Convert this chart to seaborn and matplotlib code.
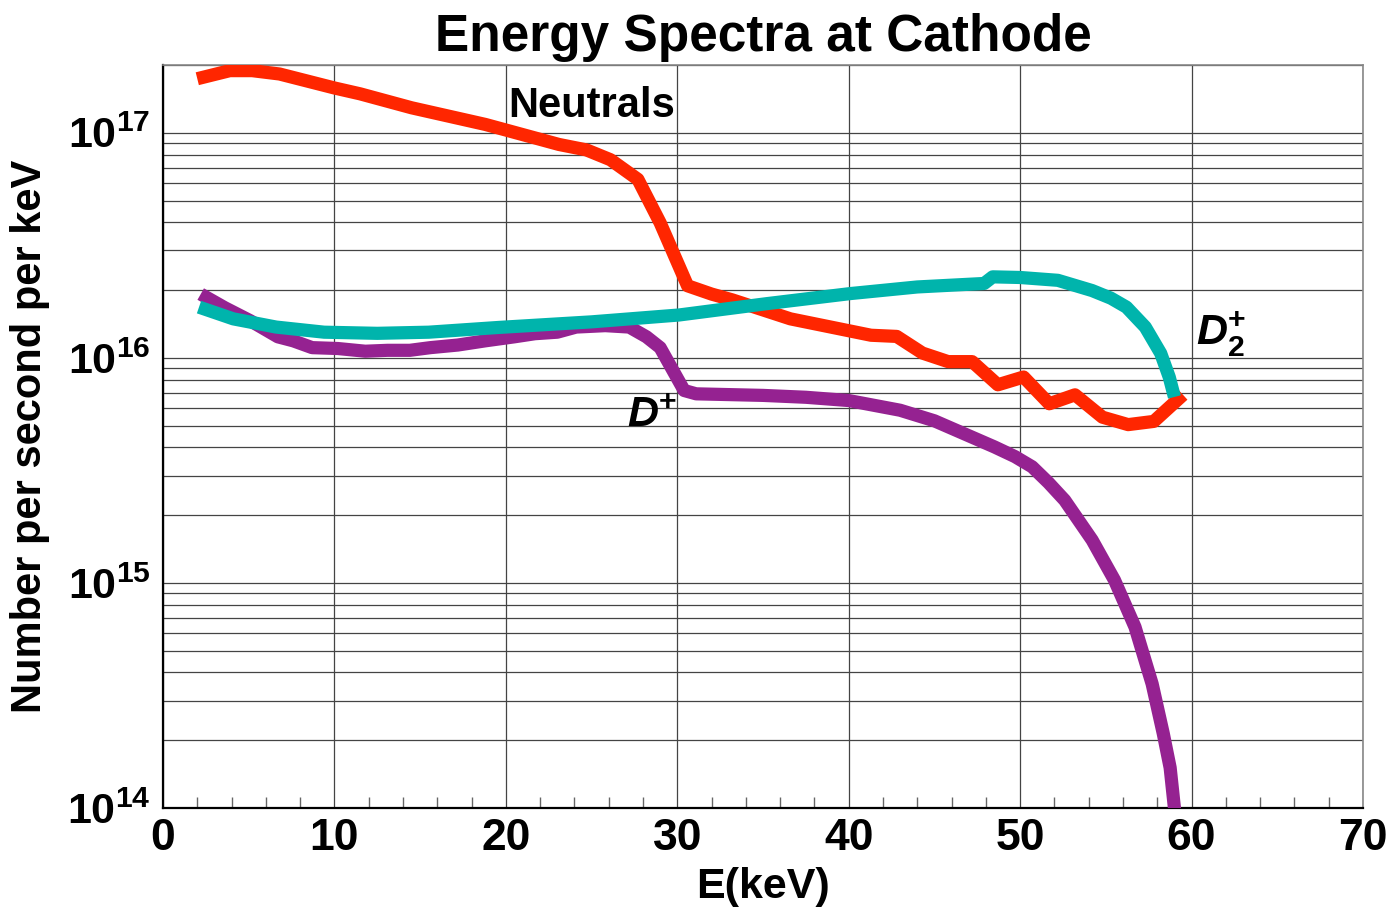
import numpy as np
import pandas as pd
import matplotlib
matplotlib.use("Agg")
import matplotlib.pyplot as plt
import matplotlib.ticker as mticker
import seaborn as sns

# ---------------- data ----------------
energy_neutrals = [2.0, 3.9, 5.2, 6.8, 10.0, 11.5, 14.5, 18.8, 23.1, 24.7, 26.1, 27.7,
                   29.0, 30.6, 32.0, 33.2, 36.6, 41.3, 42.8, 44.3, 45.8, 47.2, 48.7,
                   50.2, 51.7, 53.2, 54.8, 56.3, 57.8, 59.5]
flux_neutrals = [1.738e17, 1.888e17, 1.888e17, 1.824e17, 1.581e17, 1.489e17, 1.291e17,
                 1.089e17, 8.87e16, 8.39e16, 7.59e16, 6.21e16, 3.98e16, 2.09e16,
                 1.92e16, 1.81e16, 1.49e16, 1.26e16, 1.245e16, 1.05e16, 9.62e15,
                 9.62e15, 7.59e15, 8.22e15, 6.25e15, 6.85e15, 5.45e15, 5.05e15,
                 5.22e15, 6.85e15]

energy_dplus = [2.2, 3.6, 5.1, 6.7, 7.6, 8.7, 10.2, 11.8, 13.1, 14.4, 15.6, 17.2, 18.8,
                20.5, 21.7, 23.0, 24.1, 25.8, 27.2, 28.2, 29.0, 30.4, 31.1, 35.0, 37.5,
                40.0, 43.0, 45.0, 48.5, 49.7, 50.7, 51.65, 52.6, 54.2, 55.5, 56.7, 57.7,
                58.35, 58.75, 59.0, 59.2]
flux_dplus = [1.92e16, 1.67e16, 1.46e16, 1.24e16, 1.19e16, 1.11e16, 1.10e16, 1.07e16,
              1.08e16, 1.08e16, 1.11e16, 1.14e16, 1.19e16, 1.24e16, 1.28e16, 1.30e16,
              1.37e16, 1.39e16, 1.37e16, 1.24e16, 1.11e16, 7.16e15, 6.92e15, 6.81e15,
              6.68e15, 6.46e15, 5.85e15, 5.25e15, 4.02e15, 3.64e15, 3.28e15, 2.79e15,
              2.33e15, 1.55e15, 1.03e15, 6.37e14, 3.56e14, 2.14e14, 1.51e14, 1.0e14,
              7.1e13]

energy_d2plus = [2.1, 4.1, 6.6, 9.4, 12.5, 15.5, 19.6, 25.0, 30.1, 35.2, 40.1, 44.0,
                 47.9, 48.4, 50.0, 52.2, 54.2, 55.3, 56.2, 57.3, 58.2, 58.7, 59.0]
flux_d2plus = [1.68e16, 1.49e16, 1.37e16, 1.30e16, 1.285e16, 1.30e16, 1.365e16,
               1.445e16, 1.55e16, 1.74e16, 1.93e16, 2.065e16, 2.14e16, 2.29e16,
               2.275e16, 2.21e16, 1.99e16, 1.84e16, 1.68e16, 1.37e16, 1.047e16,
               8.2e15, 6.7e15]

x_ticks = [0, 10, 20, 30, 40, 50, 60, 70]
y_ticks = [1e14, 1e15, 1e16, 1e17]
y_tick_labels = [r"$\mathbf{10^{14}}$", r"$\mathbf{10^{15}}$",
                 r"$\mathbf{10^{16}}$", r"$\mathbf{10^{17}}$"]

# ---------------- style ----------------
sns.set_style("white")
plt.rcParams["font.family"] = ["Liberation Sans", "DejaVu Sans"]
plt.rcParams["font.weight"] = "bold"
plt.rcParams["text.color"] = "black"
plt.rcParams["axes.labelcolor"] = "black"
plt.rcParams["xtick.color"] = "black"
plt.rcParams["ytick.color"] = "black"
plt.rcParams["mathtext.fontset"] = "custom"
plt.rcParams["mathtext.rm"] = "Liberation Sans"
plt.rcParams["mathtext.bf"] = "Liberation Sans:bold"
plt.rcParams["mathtext.it"] = "Liberation Sans:italic:bold"
plt.rcParams["mathtext.bfit"] = "Liberation Sans:italic:bold"

fig = plt.figure(figsize=(13.95, 9.14), dpi=100)
ax = fig.add_axes([163 / 1395, 1 - 808 / 914, 1200 / 1395, 743 / 914])

red = "#FF2600"
purple = "#952291"
teal = "#00B4AC"

df_n = pd.DataFrame({"E": energy_neutrals, "N": flux_neutrals})
df_d = pd.DataFrame({"E": energy_dplus, "N": flux_dplus})
df_d2 = pd.DataFrame({"E": energy_d2plus, "N": flux_d2plus})

for df, c in [(df_n, red), (df_d, purple), (df_d2, teal)]:
    sns.lineplot(data=df, x="E", y="N", ax=ax, color=c, linewidth=9.5,
                 estimator=None, sort=False, legend=False,
                 solid_joinstyle="round", solid_capstyle="butt", zorder=3)

ax.set_yscale("log")
ax.set_xlim(0, 70)
ax.set_ylim(1e14, 2.0e17)

ax.xaxis.set_major_locator(mticker.FixedLocator(x_ticks))
ax.xaxis.set_minor_locator(mticker.MultipleLocator(2))
ax.yaxis.set_major_locator(mticker.FixedLocator(y_ticks))
ax.yaxis.set_minor_locator(mticker.LogLocator(base=10, subs=np.arange(2, 10)))
ax.yaxis.set_minor_formatter(mticker.NullFormatter())
ax.set_yticklabels(y_tick_labels)
ax.set_xticklabels([str(t) for t in x_ticks])

ax.grid(True, which="major", axis="x", color="#444444", linewidth=0.9)
ax.grid(True, which="both", axis="y", color="#444444", linewidth=0.9)
ax.set_axisbelow(True)

ax.tick_params(axis="x", which="major", length=0, pad=7, labelsize=32,
               labelcolor="black")
ax.tick_params(axis="x", which="minor", direction="in", length=8,
               color="#666666", width=1, bottom=True)
ax.tick_params(axis="y", which="major", direction="in", length=10, pad=9,
               labelsize=31, color="#333333", labelcolor="black")
ax.tick_params(axis="y", which="minor", length=0)

for lab in ax.get_xticklabels() + ax.get_yticklabels():
    lab.set_fontweight("bold")

for s in ["left", "bottom"]:
    ax.spines[s].set_color("black")
    ax.spines[s].set_linewidth(1.6)
for s in ["top", "right"]:
    ax.spines[s].set_color("#888888")
    ax.spines[s].set_linewidth(1.2)

ax.set_title("Energy Spectra at Cathode", fontsize=37, fontweight="bold", pad=10,
             color="black")
ax.set_xlabel("E(keV)", fontsize=31, fontweight="bold", labelpad=6, color="black")
ax.set_ylabel("Number per second per keV", fontsize=30, fontweight="bold",
              labelpad=12, color="black")

ax.text(25.0, 1.31e17, "Neutrals", fontsize=30, fontweight="bold",
        ha="center", va="center", zorder=5, color="black")
ax.text(28.5, 5.5e15, r"$\mathbfit{D}^{+}$", fontsize=31,
        ha="center", va="center", zorder=5, color="black")
ax.text(61.7, 1.27e16, r"$\mathbfit{D}_{\mathbf{2}}^{+}$", fontsize=31,
        ha="center", va="center", zorder=5, color="black")

fig.savefig("out.png", dpi=100)
